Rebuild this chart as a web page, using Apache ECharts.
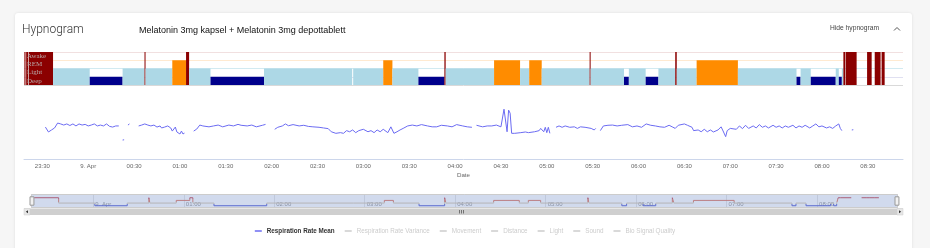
<!DOCTYPE html>
<html><head><meta charset="utf-8">
<script src="https://cdn.jsdelivr.net/npm/echarts@6/dist/echarts.min.js"></script>
<style>
html,body{margin:0;padding:0;width:930px;height:248px;overflow:hidden;background:#f6f6f6;}
#card{position:absolute;left:15px;top:13px;width:897px;height:260px;background:#fff;border-radius:3px;box-shadow:0 0 3px rgba(0,0,0,0.10);}
#chart{position:absolute;left:0;top:0;width:930px;height:248px;}
</style></head><body>
<div id="card"></div>
<div id="chart"></div>
<script>
// ---------- data ----------
const axisRange = ['23:18', '08:53'];
const mainTickLabels = ['23:30','00:00','00:30','01:00','01:30','02:00','02:30','03:00','03:30','04:00','04:30','05:00','05:30','06:00','06:30','07:00','07:30','08:00','08:30'];
const navTickLabels = ['00:00','01:00','02:00','03:00','04:00','05:00','06:00','07:00','08:00'];
const stageNames = ['Deep', 'Light', 'REM', 'Awake'];
const stageColors = ['#00008b', '#add8e6', '#ff8c00', '#8b0000'];
const navColors = ['#5a63d6', '#d6c8b0', '#e07a66', '#c8505a'];

const segStart = ['23:18:15','23:19:25','23:21:15','23:37','00:01','00:22:30','00:36:50','00:37:30','00:55','01:04','01:06','01:20','01:55','02:53:20','03:13','03:19','03:36','03:53','03:53:50','04:25:30','04:42:30','04:48:30','04:56:40','05:28','05:28:40','05:50:30','05:53:40','06:04:40','06:13','06:24','06:25','06:38','07:05','07:43:20','07:46','07:52:40','08:09','08:11','08:13','08:14','08:15:40','08:29:30','08:34:30','08:39'];
const segEnd   = ['23:19','23:20:50','23:37','00:01','00:22:30','00:36:50','00:37:30','00:55','01:04','01:06','01:20','01:55','02:52:40','03:13','03:19','03:36','03:53','03:53:50','04:25:30','04:42:30','04:48:30','04:56:40','05:28','05:28:40','05:50:30','05:53:40','06:04:40','06:13','06:24','06:25','06:38','07:05','07:43:20','07:46','07:52:40','08:09','08:11','08:13','08:14','08:15:20','08:22:40','08:32:30','08:38:20','08:41'];
const segStage = ['Awake','Awake','Awake','Light','Deep','Light','Awake','Light','REM','Awake','Light','Deep','Light','Light','REM','Light','Deep','Awake','Light','REM','Light','REM','Light','Awake','Light','Deep','Light','Deep','Light','Awake','Light','REM','Light','Deep','Light','Deep','Light','Deep','Light','Awake','Awake','Awake','Awake','Awake'];

const respTimes = ['23:32','23:34','23:36','23:38','23:40','23:42','23:44','23:46','23:48','23:50','23:52','23:54','23:56','23:58',
 '00:00','00:02','00:04','00:06','00:08','00:10','00:12','00:14','00:16','00:18','00:20','00:21','00:22:30','00:23:30','00:24','00:26','00:27','00:28',
 '00:33','00:35','00:37','00:39','00:41','00:43','00:45','00:47','00:48','00:50','00:52','00:54','00:55','00:57','00:58',
 '01:00','01:01','01:02','01:03','01:05','01:09','01:11','01:12','01:13','01:15','01:19','01:22','01:25','01:28','01:32','01:35','01:38','01:40','01:44','01:47','01:50','01:54','01:56','01:58',
 '02:02','02:04','02:07','02:09','02:11','02:14','02:18','02:21','02:24','02:27','02:31','02:34','02:37','02:39','02:42','02:45','02:47','02:49','02:51','02:53','02:55','02:57',
 '03:00','03:03','03:05','03:07','03:09','03:11','03:13','03:16','03:18','03:20','03:22','03:24','03:26','03:29','03:32','03:35','03:38','03:42','03:45','03:48','03:51','03:55','03:58',
 '04:01','04:05','04:08','04:11','04:12','04:14','04:18','04:21','04:24','04:27','04:30','04:31','04:32','04:33','04:34','04:35','04:36','04:37','04:39','04:43','04:46','04:48','04:52','04:55','04:56','04:58','04:59',
 '05:00','05:01','05:02','05:04','05:06','05:08','05:10','05:12','05:15','05:18','05:20','05:22','05:25','05:29','05:31','05:32','05:33','05:35','05:37','05:40','05:43','05:46','05:49','05:53','05:56','05:59',
 '06:02','06:05','06:08','06:11','06:14','06:17','06:20','06:22','06:24','06:26','06:30','06:32','06:35','06:36','06:39','06:41','06:43','06:45','06:47','06:49','06:52','06:53','06:54','06:55','06:56','06:57','06:58',
 '07:00','07:01','07:04','07:06','07:08','07:10','07:12','07:15','07:17','07:19','07:21','07:23','07:25','07:28','07:30','07:32','07:34','07:36','07:38','07:41','07:43','07:45','07:47','07:49','07:52','07:54','07:56','07:58',
 '08:00','08:03','08:05','08:07','08:09','08:11','08:12','08:13','08:15','08:19:30','08:20:30'];
const respValues = [14.3,12.1,13.0,13.9,16.1,15.7,15.2,15.7,15.0,15.7,14.8,15.7,15.2,15.5,
 14.8,15.2,15.7,14.8,15.2,14.8,15.7,14.6,14.3,14.8,14.8,null,8.5,8.6,null,15.2,15.7,null,
 14.8,15.2,15.7,15.2,14.8,15.2,14.3,14.8,13.9,14.3,14.8,13.9,12.5,14.3,12.1,
 11.2,12.5,11.2,11.6,null,12.5,13.4,13.0,15.2,14.8,14.4,14.8,15.2,14.4,15.2,14.8,15.5,15.1,14.8,15.2,14.4,15.1,15.5,null,
 13.3,14.2,14.8,15.7,14.9,15.4,14.8,15.1,14.6,14.4,14.2,13.9,13.6,12.2,11.5,11.8,11.5,12.7,12.2,13.0,11.8,12.7,
 13.3,12.2,12.7,11.8,13.0,12.2,13.3,11.8,14.4,11.5,12.2,13.0,13.7,14.8,15.2,14.8,15.4,14.8,14.4,14.4,15.1,14.8,14.4,
 15.4,14.8,14.4,14.2,null,15.1,14.4,14.8,14.8,15.2,14.4,14.4,22.3,22.7,12.2,21.9,20.5,11.5,11.5,11.8,12.1,11.8,12.2,12.7,13.7,12.2,14.2,
 11.8,14.2,11.5,null,14.2,14.8,14.2,14.8,14.2,14.4,13.7,14.4,14.2,13.7,13.0,13.7,null,12.7,14.8,15.1,15.2,14.8,15.1,15.4,14.4,14.8,
 14.2,15.7,15.1,14.8,14.4,14.2,15.1,14.4,13.7,15.1,15.7,15.1,14.2,12.7,13.0,12.2,13.3,12.2,13.0,12.1,13.0,13.7,14.4,13.0,12.2,10.0,12.7,
 13.7,14.4,13.3,14.8,13.6,15.1,13.7,14.8,13.9,15.4,14.2,14.8,13.9,15.1,14.2,14.8,13.9,14.8,14.2,15.1,13.9,14.8,14.2,15.1,13.9,14.8,15.7,14.4,
 14.8,13.9,14.4,13.7,14.8,15.7,13.7,12.7,null,13.0,13.1];

const legendNames = ['Respiration Rate Mean','Respiration Rate Variance','Movement','Distance','Light','Sound','Bio Signal Quality'];

// ---------- helpers ----------
function ts(s) {
  const p = s.split(':').map(Number);
  const d = p[0] >= 12 ? 8 : 9;
  return Date.UTC(2024, 3, d, p[0], p[1], p[2] || 0);
}
function pad(n) { return (n < 10 ? '0' : '') + n; }
function fmtTime(v) {
  const d = new Date(v);
  const h = d.getUTCHours(), m = d.getUTCMinutes();
  if (m % 30 !== 0 || d.getUTCSeconds() !== 0) return '';
  if (h === 0 && m === 0) return '9. Apr';
  return pad(h) + ':' + pad(m);
}
const level = {};
stageNames.forEach((n, i) => level[n] = i + 1);

const xMin = ts(axisRange[0]), xMax = ts(axisRange[1]);
const mainTicks = mainTickLabels.map(ts);
const navTicks = navTickLabels.map(ts);
const segData = segStart.map((s, i) => [ts(s), ts(segEnd[i]), level[segStage[i]]]);
const respData = respTimes.map((t, i) => [ts(t), respValues[i] == null ? '-' : respValues[i]]);

// navigator step line built from segments
const navData = [];
segData.forEach((seg, i) => {
  if (i > 0 && seg[0] - segData[i - 1][1] > 120000) navData.push([segData[i - 1][1] + 1000, '-']);
  navData.push([seg[0], seg[2]]);
  navData.push([seg[1], seg[2]]);
});

const FONT = '"Liberation Sans", Arial, sans-serif';
const chart = echarts.init(document.getElementById('chart'), null, {renderer: 'canvas'});

const option = {
  animation: false,
  textStyle: {fontFamily: FONT},
  title: [
    {text: 'Hypnogram', left: 22, top: 24, padding: 0, textStyle: {fontFamily: 'Roboto', fontSize: 12, fontWeight: 300, color: '#333'}},
    {text: 'Melatonin 3mg kapsel + Melatonin 3mg depottablett', left: 139, top: 26.5, padding: 0, textStyle: {fontFamily: FONT, fontSize: 9, fontWeight: 'normal', color: '#111'}},
    {text: 'Hide hypnogram', left: 830, top: 25, padding: 0, textStyle: {fontFamily: FONT, fontSize: 6.7, fontWeight: 'normal', color: '#444'}}
  ],
  legend: {
    left: 'center', top: 223,
    icon: 'rect', itemWidth: 7, itemHeight: 1.5, itemGap: 10,
    textStyle: {fontSize: 6.3, color: '#333'},
    inactiveColor: '#cccccc',
    data: legendNames.map((n, i) => i === 0 ? {name: n, textStyle: {fontWeight: 'bold'}} : {name: n}),
    selected: Object.fromEntries(legendNames.map((n, i) => [n, i === 0]))
  },
  grid: [
    {left: 24, right: 27, top: 92, height: 67},
    {left: 24, right: 27, top: 52, height: 33},
    {left: 30, right: 33, top: 194, height: 14}
  ],
  xAxis: [
    {
      type: 'value', gridIndex: 0, min: xMin, max: xMax,
      axisLine: {lineStyle: {color: '#ccd6eb', width: 1}},
      axisTick: {show: false, customValues: mainTicks},
      splitLine: {show: false},
      axisLabel: {customValues: mainTicks, formatter: fmtTime, fontSize: 6, color: '#666', margin: 4, hideOverlap: false},
      name: 'Date', nameLocation: 'middle', nameGap: 13,
      nameTextStyle: {fontSize: 6.2, color: '#666'}
    },
    {type: 'value', gridIndex: 1, min: xMin, max: xMax, show: false},
    {
      type: 'value', gridIndex: 2, min: xMin, max: xMax,
      axisLine: {show: false},
      axisTick: {show: false, customValues: navTicks},
      splitLine: {show: true, lineStyle: {color: '#e6e6e6', width: 1}},
      axisLabel: {customValues: navTicks, formatter: fmtTime, inside: true, align: 'left', padding: [0, 0, 0, 2], margin: 1, fontSize: 6, color: '#999'}
    }
  ],
  yAxis: [
    {type: 'value', gridIndex: 0, min: 0, max: 30, show: false},
    {
      type: 'value', gridIndex: 1, min: 0, max: 4, interval: 1,
      axisLine: {show: false}, axisTick: {show: false}, axisLabel: {show: false},
      splitLine: {show: true, lineStyle: {width: 1, color: ['#d9d9d9', 'rgba(0,0,139,0.12)', 'rgba(173,216,230,0.55)', 'rgba(255,140,0,0.18)', 'rgba(139,0,0,0.12)']}}
    },
    {
      type: 'category', gridIndex: 1, data: stageNames, position: 'left',
      axisLine: {show: false}, axisTick: {show: false}, splitLine: {show: false},
      axisLabel: {inside: true, interval: 0, margin: 3, fontSize: 7, color: '#b8a8a8', fontFamily: '"Liberation Serif", serif'},
      z: 10
    },
    {type: 'value', gridIndex: 2, min: 0.15, max: 5.4, show: false}
  ],
  visualMap: {
    show: false, type: 'piecewise', seriesIndex: 2, dimension: 1,
    pieces: [
      {lt: 1.5, color: navColors[0]},
      {gte: 1.5, lt: 2.5, color: navColors[1]},
      {gte: 2.5, lt: 3.5, color: navColors[2]},
      {gte: 3.5, color: navColors[3]}
    ]
  },
  dataZoom: [{
    type: 'slider', xAxisIndex: [0, 1], filterMode: 'none',
    left: 30, right: 33, top: 194, height: 14,
    start: 0, end: 100,
    showDetail: false, showDataShadow: false, brushSelect: false,
    backgroundColor: 'rgba(0,0,0,0)', borderColor: '#cccccc',
    fillerColor: 'rgba(102,133,194,0.3)',
    handleIcon: 'path://M-3.5,-7.5 L3.5,-7.5 L3.5,7.5 L-3.5,7.5 Z',
    handleSize: '60%',
    handleStyle: {color: '#f2f2f2', borderColor: '#999', borderWidth: 1},
    moveHandleSize: 0,
    textStyle: {fontSize: 1, color: 'rgba(0,0,0,0)'}
  }],
  graphic: [
    {type: 'rect', shape: {x: 24, y: 208.5, width: 879, height: 6.5}, style: {fill: '#cfcfcf'}, silent: true},
    {type: 'rect', shape: {x: 24, y: 208.5, width: 6, height: 6.5}, style: {fill: '#e6e6e6', stroke: '#cccccc', lineWidth: 0.5}, silent: true},
    {type: 'rect', shape: {x: 897, y: 208.5, width: 6, height: 6.5}, style: {fill: '#e6e6e6', stroke: '#cccccc', lineWidth: 0.5}, silent: true},
    {type: 'polygon', shape: {points: [[25.8, 211.75], [28, 210.2], [28, 213.3]]}, style: {fill: '#333'}, silent: true},
    {type: 'polygon', shape: {points: [[901.2, 211.75], [899, 210.2], [899, 213.3]]}, style: {fill: '#333'}, silent: true},
    {type: 'polyline', shape: {points: [[459.5, 210], [459.5, 213.5]]}, style: {stroke: '#333', lineWidth: 0.6}, silent: true},
    {type: 'polyline', shape: {points: [[461.5, 210], [461.5, 213.5]]}, style: {stroke: '#333', lineWidth: 0.6}, silent: true},
    {type: 'polyline', shape: {points: [[463.5, 210], [463.5, 213.5]]}, style: {stroke: '#333', lineWidth: 0.6}, silent: true},
    {type: 'polyline', shape: {points: [[894, 30.5], [897, 27.5], [900, 30.5]]}, style: {stroke: '#555', lineWidth: 1, fill: null}, silent: true}
  ],
  series: [
    {
      name: 'Respiration Rate Mean', type: 'line', xAxisIndex: 0, yAxisIndex: 0,
      data: respData, showSymbol: false, connectNulls: false,
      lineStyle: {color: '#6b6bf2', width: 1}, itemStyle: {color: '#6b6bf2'}
    },
    {
      name: 'Hypnogram', type: 'custom', xAxisIndex: 1, yAxisIndex: 1,
      data: segData, encode: {x: [0, 1], y: 2},
      renderItem: function (params, api) {
        const lv = api.value(2);
        const p0 = api.coord([api.value(0), 0]);
        const p1 = api.coord([api.value(1), lv]);
        return {type: 'rect', shape: {x: p0[0], y: p1[1], width: p1[0] - p0[0], height: p0[1] - p1[1]},
                style: {fill: stageColors[lv - 1]}};
      }
    },
    {
      name: 'Navigator', type: 'line', xAxisIndex: 2, yAxisIndex: 3,
      data: navData, showSymbol: false, connectNulls: false,
      lineStyle: {width: 1}
    },
    {name: 'Respiration Rate Variance', type: 'line', xAxisIndex: 0, yAxisIndex: 0, data: []},
    {name: 'Movement', type: 'line', xAxisIndex: 0, yAxisIndex: 0, data: []},
    {name: 'Distance', type: 'line', xAxisIndex: 0, yAxisIndex: 0, data: []},
    {name: 'Light', type: 'line', xAxisIndex: 0, yAxisIndex: 0, data: []},
    {name: 'Sound', type: 'line', xAxisIndex: 0, yAxisIndex: 0, data: []},
    {name: 'Bio Signal Quality', type: 'line', xAxisIndex: 0, yAxisIndex: 0, data: []}
  ]
};
chart.setOption(option);
</script></body></html>
